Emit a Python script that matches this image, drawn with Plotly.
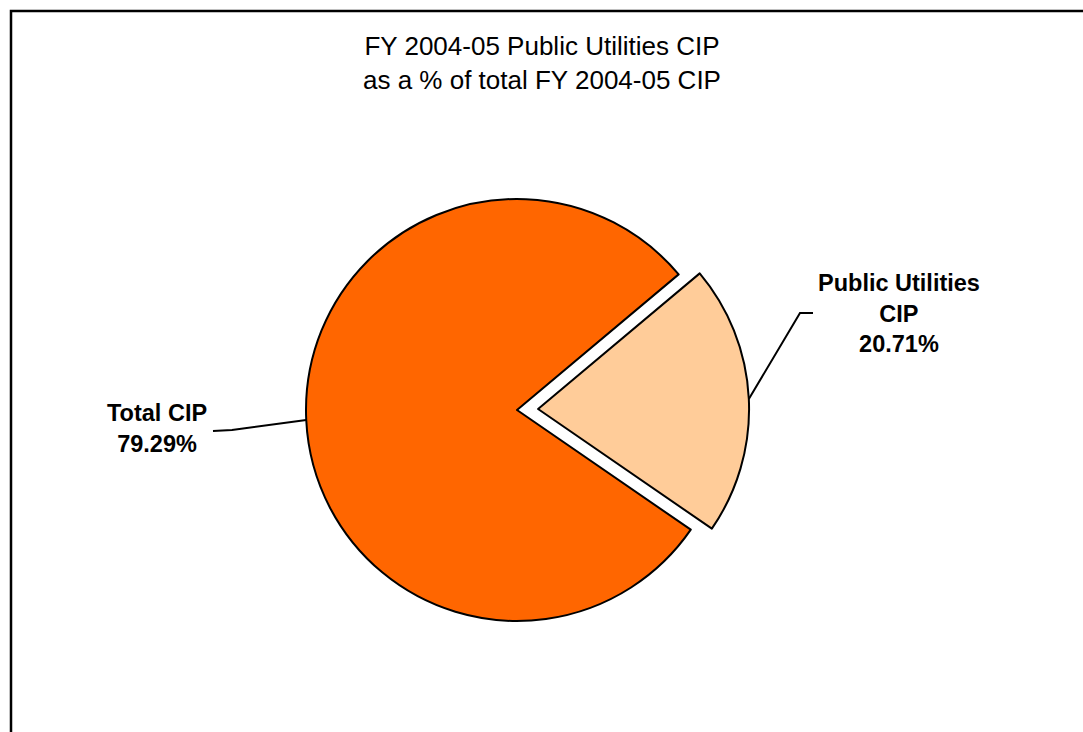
import numpy as np
import plotly.graph_objects as go

# ---- data ----
labels = ["Public Utilities CIP", "Total CIP"]
label_lines = [["Public Utilities", "CIP"], ["Total CIP"]]
values = [20.71, 79.29]
colors = ["#FFCC99", "#FF6600"]
pulls = [0.1, 0.0]
title_lines = ["FY 2004-05 Public Utilities CIP", "as a % of total FY 2004-05 CIP"]

W, H = 1083, 732
FONT = "Arial, Liberation Sans, Helvetica, sans-serif"

# pie geometry (pixels)
cx, cy, r = 517.0, 410.0, 211.0
maxpull = max(pulls)
half = r * (1 + maxpull)
dom_x = [(cx - half) / W, (cx + half) / W]
dom_y = [1 - (cy + half) / H, 1 - (cy - half) / H]
rotation = 50  # degrees clockwise from 12 o'clock

fig = go.Figure(go.Pie(
    labels=labels, values=values, sort=False, direction="clockwise",
    rotation=rotation, pull=pulls, textinfo="none", hoverinfo="label+percent",
    marker=dict(colors=colors, line=dict(color="black", width=2)),
    domain=dict(x=dom_x, y=dom_y), showlegend=False,
))

def px2paper(x, y):
    return x / W, 1 - y / H

# slice mid-angles (clockwise from 12 o'clock) -> edge points for leader lines
total = sum(values)
start = rotation
edges = []
for v, p in zip(values, pulls):
    span = v / total * 360
    mid = np.radians(start + span / 2)
    ox, oy = cx + p * r * np.sin(mid), cy - p * r * np.cos(mid)
    edges.append((ox + r * np.sin(mid), oy - r * np.cos(mid)))
    start += span

# label placements (pixels): text centre, elbow, leader end
label_pos = [(899, 313.5), (157, 428.5)]
elbows = [[(800, 313), (813, 313)], [(232, 430), (213, 431)]]

annotations = []
shapes = []
for i in range(len(values)):
    txt = "<br>".join([f"<b>{s}</b>" for s in label_lines[i]] + [f"<b>{values[i]:.2f}%</b>"])
    ax_, ay_ = px2paper(*label_pos[i])
    annotations.append(dict(text=txt, x=ax_, y=ay_, xref="paper", yref="paper",
                            showarrow=False, xanchor="center", yanchor="middle",
                            font=dict(family=FONT, size=23.5, color="black")))
    pts = [edges[i]] + elbows[i]
    path = "M " + " L ".join(f"{px2paper(x, y)[0]:.5f},{px2paper(x, y)[1]:.5f}" for x, y in pts)
    shapes.append(dict(type="path", path=path, xref="paper", yref="paper",
                       line=dict(color="black", width=2)))

tx, ty = px2paper(541.5, 63.5)
annotations.append(dict(text="<br>".join(title_lines), x=tx, y=ty, xref="paper", yref="paper",
                        showarrow=False, xanchor="center", yanchor="middle",
                        font=dict(family=FONT, size=26, color="black")))

# chart border (extends past right and bottom edges)
bx0, by1 = px2paper(11, 11)
shapes.append(dict(type="rect", xref="paper", yref="paper", x0=bx0, y0=-0.05, x1=1.05, y1=by1,
                   line=dict(color="black", width=2.5), fillcolor="rgba(0,0,0,0)"))

fig.update_layout(width=W, height=H, margin=dict(l=0, r=0, t=0, b=0),
                  paper_bgcolor="white", plot_bgcolor="white",
                  annotations=annotations, shapes=shapes)
fig.write_html("out.html")
